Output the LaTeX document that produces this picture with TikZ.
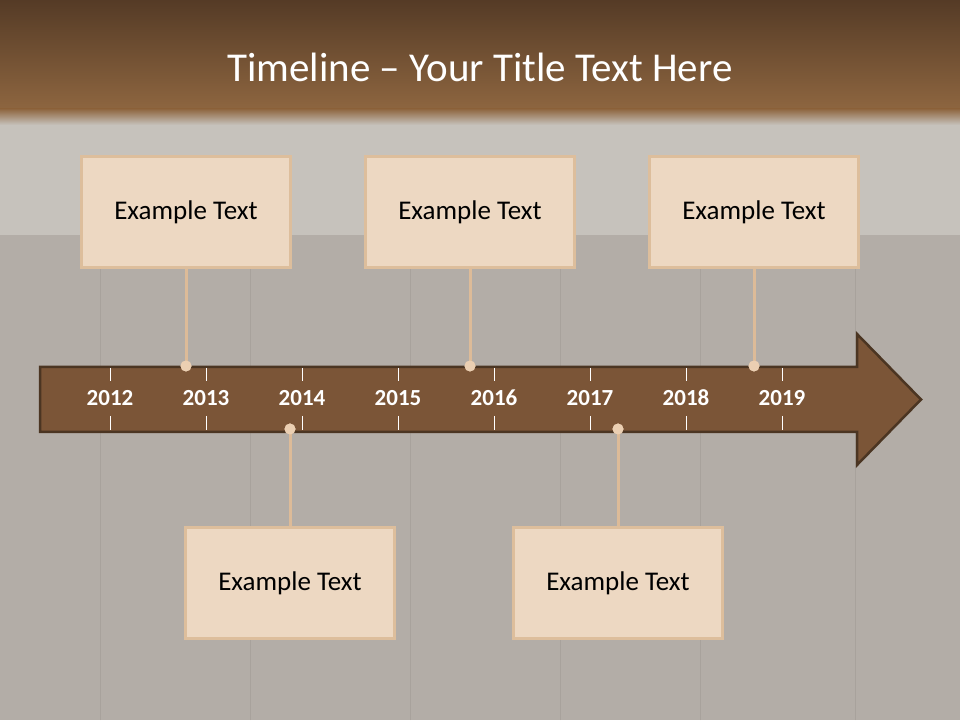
\documentclass[tikz,border=0pt]{standalone}
\usepackage{fontspec}
\setmainfont{Carlito}
\usepackage{xcolor}
\usepackage{tikz}

\definecolor{headtop}{HTML}{553B26}
\definecolor{headbot}{HTML}{8E6640}
\definecolor{woodgrey}{HTML}{B3ADA7}
\definecolor{woodlight}{HTML}{C6C2BC}
\definecolor{plankline}{HTML}{A8A29C}
\definecolor{arrowfill}{HTML}{7B5537}
\definecolor{arrowline}{HTML}{4B3522}
\definecolor{boxfill}{HTML}{EDD8C2}
\definecolor{boxline}{HTML}{DDBE9C}
\definecolor{stemcol}{HTML}{DDBB98}
\definecolor{dotfill}{HTML}{EBCFB2}

\begin{document}
\begin{tikzpicture}[x=1pt,y=1pt,
  textbox/.style={draw=boxline,line width=3pt,fill=boxfill,minimum width=209pt,minimum height=111pt,inner sep=0pt,font=\fontsize{27}{31}\selectfont},
  year/.style={text=white,font=\fontsize{23}{27}\selectfont\bfseries},
  stem/.style={stemcol,line width=3pt},
  dot/.style={circle,fill=dotfill,draw=none,minimum size=11pt,inner sep=0pt},
  tick/.style={white,line width=1pt}]
\useasboundingbox (0,0) rectangle (960,720);
% background
\fill[woodgrey] (0,0) rectangle (960,720);
\fill[woodlight] (0,485) rectangle (960,600);
\foreach \px in {100,250,410,560,700,855}
  \draw[plankline,line width=1pt] (\px,0) -- (\px,485);
\shade[top color=headtop,bottom color=headbot] (0,610) rectangle (960,720);
\shade[top color=headbot,bottom color=woodlight] (0,595) rectangle (960,611);
\node[text=white,font=\fontsize{41}{47}\selectfont] (title) at (480,653) {Timeline -- Your Title Text Here};
% arrow
\draw[fill=arrowfill,draw=arrowline,line width=2.5pt,line join=miter]
  (40,288) -- (857,288) -- (857,255) -- (921,320.5) -- (857,386) -- (857,353) -- (40,353) -- cycle;
\foreach \yr [count=\i from 0] in {2012,...,2019} {
  \draw[tick] ({110+96*\i},352) -- ({110+96*\i},339);
  \draw[tick] ({110+96*\i},304) -- ({110+96*\i},290);
  \node[year] (y\yr) at ({110+96*\i},322) {\yr};
}
% boxes
\node[textbox] (b1) at (186,508) {Example Text};
\node[textbox] (b2) at (470,508) {Example Text};
\node[textbox] (b3) at (754,508) {Example Text};
\node[textbox] (b4) at (290,137) {Example Text};
\node[textbox] (b5) at (618,137) {Example Text};
% stems
\node[dot] (d1) at (186,354) {};
\node[dot] (d2) at (470,354) {};
\node[dot] (d3) at (754,354) {};
\node[dot] (d4) at (290,291) {};
\node[dot] (d5) at (618,291) {};
\draw[stem] (b1.south) -- (d1.center);
\draw[stem] (b2.south) -- (d2.center);
\draw[stem] (b3.south) -- (d3.center);
\draw[stem] (b4.north) -- (d4.center);
\draw[stem] (b5.north) -- (d5.center);
\foreach \d in {d1,d2,d3,d4,d5}
  \fill[dotfill] (\d) circle (5.5pt);
\end{tikzpicture}
\end{document}
